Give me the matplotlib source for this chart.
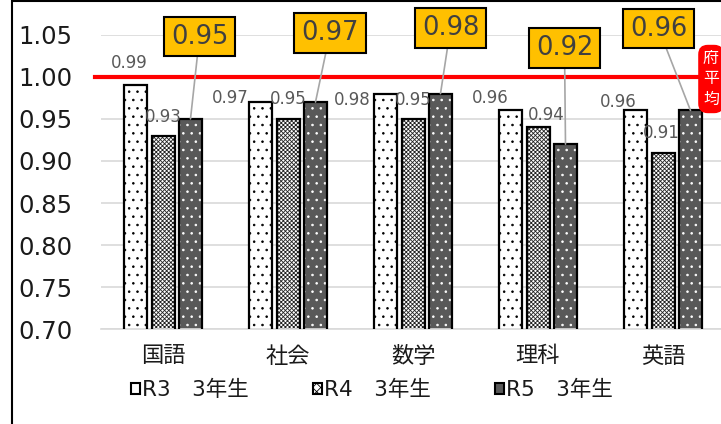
import matplotlib
matplotlib.use('Agg')
import matplotlib.pyplot as plt
import numpy as np
from matplotlib.patches import Patch, Rectangle

plt.rcParams['font.family'] = ['DejaVu Sans', 'Noto Sans CJK JP']
plt.rcParams['hatch.linewidth'] = 0.6

# data
subjects = ['国語', '社会', '数学', '理科', '英語']
r3 = [0.99, 0.97, 0.98, 0.96, 0.96]
r4 = [0.93, 0.95, 0.95, 0.94, 0.91]
r5 = [0.95, 0.97, 0.98, 0.92, 0.96]
series_names = ['R3\u30003年生', 'R4\u30003年生', 'R5\u30003年生']
pref_avg = 1.00
yticks = [0.70, 0.75, 0.80, 0.85, 0.90, 0.95, 1.00, 1.05]

# label placement (pixels)
r3_offsets = [(-6, 22), (-30, 4), (-33, -6), (-20, 12), (-17, 8)]
r4_offsets = [(0, 19), (0, 20), (0, 19), (8, 12), (-2, 20)]
r5_boxes = [(199.5, 36.5), (330, 33), (450.5, 28), (564.5, 48), (658.5, 28.5)]

W, H = 721, 424
fig = plt.figure(figsize=(W / 100, H / 100), dpi=100)
# plot area runs past the right edge of the picture (cropped)
ax = fig.add_axes([100.5 / W, (H - 329.3) / H, 625 / W, 294.6 / H])

x = np.arange(len(subjects))
off = 0.22
bw = 0.184

# R3: white with black dots
ax.bar(x - off, r3, bw, color='white', edgecolor='black', hatch='..', linewidth=0, zorder=2)
ax.bar(x - off, r3, bw, fill=False, edgecolor='black', linewidth=1.6, zorder=3)
# R4: fine checker
ax.bar(x, r4, bw, color='white', edgecolor='#222222', hatch='xxxxxxxx', linewidth=0, zorder=2)
ax.bar(x, r4, bw, fill=False, edgecolor='black', linewidth=1.6, zorder=3)
# R5: dark grey with white dots
ax.bar(x + off, r5, bw, color='#595959', edgecolor='white', hatch='..', linewidth=0, zorder=2)
ax.bar(x + off, r5, bw, fill=False, edgecolor='black', linewidth=1.6, zorder=3)

ax.set_xlim(-0.5, len(subjects) - 0.5)
ax.set_ylim(0.70, 1.05)
ax.set_yticks(yticks)
ax.set_yticklabels(['{:.2f}'.format(v) for v in yticks])
ax.set_xticks(x)
ax.set_xticklabels(subjects)
ax.tick_params(axis='y', length=0, pad=20, labelsize=17.5, labelcolor='#1a1a1a')
ax.tick_params(axis='x', length=0, pad=12, labelsize=16, labelcolor='#1a1a1a')
ax.yaxis.grid(True, color='#d9d9d9', linewidth=1.2, zorder=0)
ax.set_axisbelow(True)
for s in ['top', 'right', 'left']:
    ax.spines[s].set_visible(False)
ax.spines['bottom'].set_color('#d9d9d9')
ax.spines['bottom'].set_linewidth(1.2)

# prefecture average line
ax.plot([-0.544, len(subjects) - 0.5], [pref_avg, pref_avg], color='#ff0000', linewidth=3, clip_on=False, zorder=4)

# data labels R3 / R4
for i in range(len(subjects)):
    ax.annotate('{:.2f}'.format(r3[i]), (x[i] - off, r3[i]), xytext=r3_offsets[i],
                textcoords='offset pixels', ha='center', va='center', fontsize=12, color='#595959', zorder=5)
    ax.annotate('{:.2f}'.format(r4[i]), (x[i], r4[i]), xytext=r4_offsets[i],
                textcoords='offset pixels', ha='center', va='center', fontsize=12, color='#595959', zorder=5)

# R5 callouts
for i in range(len(subjects)):
    bx, by = r5_boxes[i]
    ax.annotate('{:.2f}'.format(r5[i]), (x[i] + off, r5[i]), xytext=(bx, H - by),
                textcoords='figure pixels', ha='center', va='center', fontsize=18.5, color='#404040',
                bbox=dict(boxstyle='square,pad=0.27', fc='#ffc000', ec='black', lw=1.5),
                arrowprops=dict(arrowstyle='-', color='#a6a6a6', lw=1.2, shrinkA=0, shrinkB=0),
                annotation_clip=False, zorder=6)

# 府平均 tag
fig.text(711 / W, (H - 79) / H, '府\n平\n均', color='white', fontsize=11.5, ha='center', va='center',
         linespacing=1.3, family=['Noto Sans CJK JP'],
         bbox=dict(boxstyle='round,pad=0.3,rounding_size=0.6', fc='#ff0000', ec='none'))

# legend
handles = [Patch(facecolor='white', edgecolor='black', linewidth=1.5),
           Patch(facecolor='white', edgecolor='black', hatch='xxxx', linewidth=1.5),
           Patch(facecolor='#595959', edgecolor='black', linewidth=1.5)]
fig.legend(handles, series_names, loc='center', bbox_to_anchor=(372 / W, (H - 390) / H),
           ncol=3, frameon=False, fontsize=15.5, handlelength=0.4, handleheight=0.4,
           handletextpad=0.1, columnspacing=3.0, labelcolor='#1a1a1a')

# chart frame
fig.patches.append(Rectangle((11.5 / W, -0.1), 1.0, (H - 0.8) / H + 0.1, transform=fig.transFigure,
                             fill=False, edgecolor='black', linewidth=1.5))

fig.savefig('out.png', dpi=100)
